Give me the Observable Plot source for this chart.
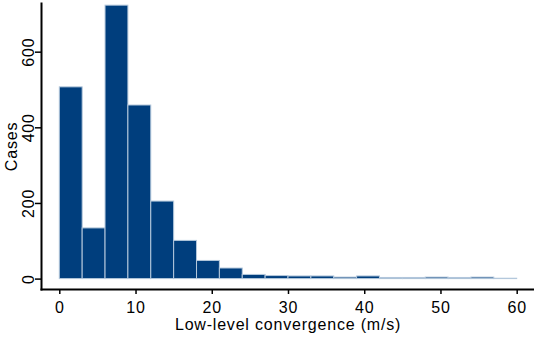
<!DOCTYPE html>
<html>
<head>
<meta charset="utf-8">
<script src="https://cdn.jsdelivr.net/npm/d3@7"></script>
<script src="https://cdn.jsdelivr.net/npm/@observablehq/plot@0.6"></script>
<style>
  html, body { margin: 0; padding: 0; background: #fff; }
  svg { display: block; }
  svg text { letter-spacing: 0.8px; }
</style>
</head>
<body>
<div id="chart"></div>
<script>
// Histogram of low-level convergence, 3 m/s bins
const binLow = [0, 3, 6, 9, 12, 15, 18, 21, 24, 27, 30, 33, 36, 39, 42, 45, 48, 51, 54, 57];
const binWidth = 3;
const cases = [507, 134, 723, 459, 205, 101, 48, 28, 11, 8, 7, 7, 4, 7, 3, 3, 4, 3, 4, 1];
const xTicks = [0, 10, 20, 30, 40, 50, 60];
const yTicks = [0, 200, 400, 600];

const bins = binLow.map((x, i) => ({x1: x, x2: x + binWidth, n: cases[i]}));

const font = "Liberation Sans, Arial, Helvetica, sans-serif";

const chart = Plot.plot({
  width: 534,
  height: 338,
  marginLeft: 41,
  marginRight: 0,
  marginTop: 3,
  marginBottom: 49,
  style: {fontFamily: font, fontSize: "16px", color: "#000", background: "#fff"},
  x: {domain: [-2.4, 62.27]},
  y: {domain: [-27.5, 728.7]},
  marks: [
    Plot.rectY(bins, {
      x1: "x1", x2: "x2", y1: 0, y2: "n",
      fill: "#003e7d", stroke: "#b4c8dc", strokeWidth: 1
    }),
    Plot.axisX({
      ticks: xTicks, tickSize: 5, tickPadding: 7, tickFormat: d => d,
      strokeWidth: 1.5,
      label: "Low-level convergence (m/s)", labelAnchor: "center", labelArrow: "none", labelOffset: 40
    }),
    Plot.axisY({
      ticks: yTicks, tickSize: 6, tickPadding: 2, tickRotate: -90, tickFormat: d => d,
      strokeWidth: 1.5,
      label: "Cases", labelAnchor: "center", labelArrow: "none", labelOffset: 36
    }),
    Plot.frame({anchor: "left", strokeWidth: 2}),
    Plot.frame({anchor: "bottom", strokeWidth: 2})
  ]
});

document.getElementById("chart").appendChild(chart);
</script>
</body>
</html>
